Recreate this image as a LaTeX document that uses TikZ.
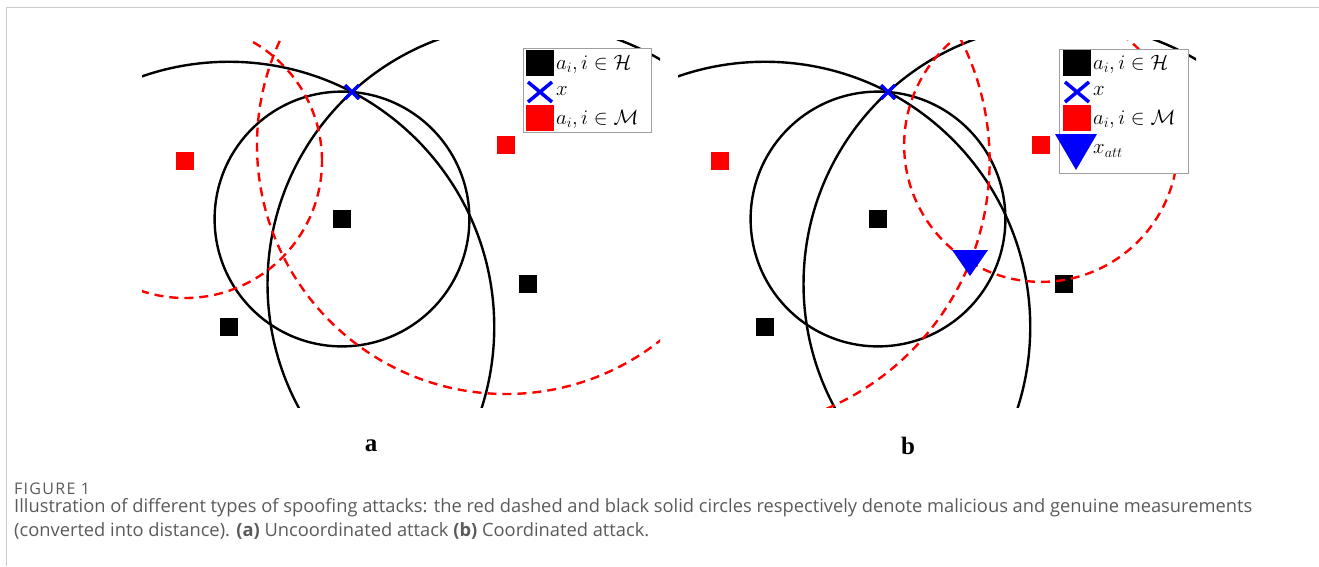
\documentclass[tikz,border=0pt]{standalone}
\usepackage{fontspec}
\usetikzlibrary{calc}
\newfontfamily\capfont{Open Sans}
\newfontfamily\figfont[LetterSpace=8]{Open Sans}
\newfontfamily\labfont{Liberation Serif}
\definecolor{capgray}{HTML}{5A5A5A}
\definecolor{framegray}{HTML}{CCCCCC}
\definecolor{leggray}{HTML}{A0A0A0}
\begin{document}
\begin{tikzpicture}[x=1pt,y=-1pt,
  genuine/.style={draw=black, line width=2.4pt},
  malicious/.style={draw=red, line width=2.4pt, dash pattern=on 9pt off 6pt},
  hsq/.style={rectangle, fill=black, inner sep=0pt, minimum size=18pt},
  msq/.style={rectangle, fill=red, inner sep=0pt, minimum size=18pt},
  lhsq/.style={rectangle, fill=black, inner sep=0pt, minimum width=28pt, minimum height=26pt},
  lmsq/.style={rectangle, fill=red, inner sep=0pt, minimum width=28pt, minimum height=26pt},
  xmark/.style={draw=blue, line width=3.5pt},
  legbox/.style={draw=leggray, fill=white, line width=1pt},
  legtext/.style={anchor=west, inner sep=0pt, font=\fontsize{21.7}{24}\selectfont},
  panellabel/.style={font=\labfont\bfseries\fontsize{25}{28}\selectfont, inner sep=0pt},
  captext/.style={anchor=west, inner sep=0pt, text=capgray, font=\capfont\fontsize{18.3}{22}\selectfont}
]
\useasboundingbox (0,0) rectangle (1319,566);
\draw[framegray, line width=1.2pt] (6.5,566) -- (6.5,7.5) -- (1319,7.5);

% ---------------- Panel a ----------------
\coordinate (xa) at (352,92);
\node[hsq] (ha1) at (342,219) {};
\node[hsq] (ha2) at (229,327) {};
\node[hsq] (ha3) at (528,284) {};
\node[msq] (ma1) at (185,161) {};
\node[msq] (ma2) at (506,145) {};
\begin{scope}
  \clip (142,40) rectangle (660,407);
  \foreach \c in {ha1,ha2,ha3}{
    \draw[genuine] let \p1=($(xa)-(\c.center)$), \n1={veclen(\x1,\y1)} in (\c.center) circle[radius=\n1];
  }
  \draw[malicious] (ma1.center) circle[radius=137pt];
  \draw[malicious] (ma2.center) circle[radius=249pt];
\end{scope}
\draw[xmark] ($(xa)+(-7,-7)$) -- ($(xa)+(7,7)$) ($(xa)+(-7,7)$) -- ($(xa)+(7,-7)$);
% legend a
\node[legbox, rectangle, minimum width=128pt, minimum height=84pt, inner sep=0pt] (lega) at (587,90) {};
\node[lhsq] (lah) at (540,63) {};
\coordinate (lax) at (540,92);
\draw[xmark] ($(lax)+(-12,-10)$) -- ($(lax)+(12,10)$) ($(lax)+(-12,10)$) -- ($(lax)+(12,-10)$);
\node[lmsq] (lam) at (540,118) {};
\node[legtext] (lath) at (556,64) {$a_i, i \in \mathcal{H}$};
\node[legtext] (latx) at (556,91) {$x$};
\node[legtext] (latm) at (556,119) {$a_i, i \in \mathcal{M}$};

% ---------------- Panel b ----------------
\coordinate (xb) at (888,92);
\coordinate (xatt) at (970,262);
\node[hsq] (hb1) at (878,219) {};
\node[hsq] (hb2) at (765,327) {};
\node[hsq] (hb3) at (1064,284) {};
\node[msq] (mb1) at (720,161) {};
\node[msq] (mb2) at (1041,145) {};
\begin{scope}
  \clip (678,40) rectangle (1196,407);
  \foreach \c in {hb1,hb2,hb3}{
    \draw[genuine] let \p1=($(xb)-(\c.center)$), \n1={veclen(\x1,\y1)} in (\c.center) circle[radius=\n1];
  }
  \foreach \c in {mb1,mb2}{
    \draw[malicious] let \p1=($(xatt)-(\c.center)$), \n1={veclen(\x1,\y1)} in (\c.center) circle[radius=\n1];
  }
\end{scope}
\draw[xmark] ($(xb)+(-7,-7)$) -- ($(xb)+(7,7)$) ($(xb)+(-7,7)$) -- ($(xb)+(7,-7)$);
\fill[blue] ($(xatt)+(-18,-12)$) -- ($(xatt)+(18,-12)$) -- ($(xatt)+(0,14)$) -- cycle;
% legend b
\node[legbox, rectangle, minimum width=129pt, minimum height=124pt, inner sep=0pt] (legb) at (1123.5,111) {};
\node[lhsq] (lbh) at (1076.5,63) {};
\coordinate (lbx) at (1077,92);
\draw[xmark] ($(lbx)+(-12,-10)$) -- ($(lbx)+(12,10)$) ($(lbx)+(-12,10)$) -- ($(lbx)+(12,-10)$);
\node[lmsq] (lbm) at (1076.5,118) {};
\coordinate (lbt) at (1076,152);
\fill[blue] ($(lbt)+(-21,-18)$) -- ($(lbt)+(21,-18)$) -- ($(lbt)+(0,18)$) -- cycle;
\node[legtext] (lbth) at (1093,64) {$a_i, i \in \mathcal{H}$};
\node[legtext] (lbtx) at (1093,91) {$x$};
\node[legtext] (lbtm) at (1093,119) {$a_i, i \in \mathcal{M}$};
\node[legtext] (lbta) at (1093,151) {$x_{att}$};

% ---------------- labels and caption ----------------
\node[panellabel] (la) at (371,446) {a};
\node[panellabel] (lb) at (908,446) {b};
\node[captext, font=\figfont\fontsize{16}{18}\selectfont] (fig) at (14,489) {FIGURE 1};
\node[captext] (cap1) at (14,508) {Illustration of different types of spoofing attacks: the red dashed and black solid circles respectively denote malicious and genuine measurements};
\node[captext] (cap2) at (14,531) {(converted into distance). \textbf{(a)} Uncoordinated attack \textbf{(b)} Coordinated attack.};
\end{tikzpicture}
\end{document}
